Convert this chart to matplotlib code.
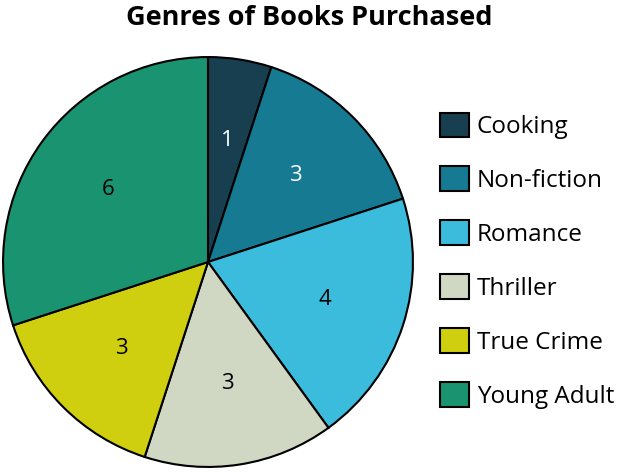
import matplotlib
matplotlib.use("Agg")
import matplotlib.pyplot as plt

plt.rcParams["font.family"] = ["Open Sans", "DejaVu Sans"]

genres = ["Cooking", "Non-fiction", "Romance", "Thriller", "True Crime", "Young Adult"]
counts = [1, 3, 4, 3, 3, 6]
colors = ["#173f50", "#157a92", "#3bbcdc", "#d0d8c4", "#cfcf10", "#1a9470"]
label_colors = ["white", "white", "black", "black", "black", "black"]

fig = plt.figure(figsize=(6.19, 4.72), dpi=100)
ax = fig.add_axes([1 / 619, 3 / 472, 414 / 619, 414 / 472])

wedges, texts = ax.pie(counts, colors=colors, startangle=90, counterclock=False,
                       radius=1, wedgeprops=dict(edgecolor="black", linewidth=1.5),
                       labels=[str(c) for c in counts], labeldistance=0.6)
for t, c in zip(texts, label_colors):
    t.set_color(c)
    t.set_fontsize(16)
    t.set_horizontalalignment("center")
    t.set_verticalalignment("center")
ax.set_xlim(-1.01, 1.01)
ax.set_ylim(-1.01, 1.01)
ax.set_aspect("equal")

fig.text(0.5, 0.962, "Genres of Books Purchased", ha="center", va="center",
         fontsize=19.5, fontweight="bold")

fig.legend(wedges, genres, loc="center left", bbox_to_anchor=(0.676, 0.448),
           frameon=False, fontsize=17.5, handlelength=1.2, handleheight=1.2,
           labelspacing=1.12, handletextpad=0.3)

fig.savefig("out.png", dpi=100)
